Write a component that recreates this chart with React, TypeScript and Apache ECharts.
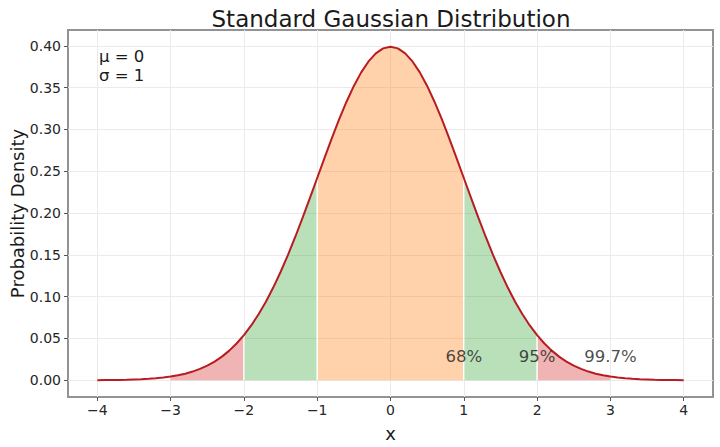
import React, { useEffect, useRef } from 'react';
import * as echarts from 'echarts';

// x 从 -4 到 4，步长 0.1
const xValues = [
  -4.0, -3.9, -3.8, -3.7, -3.6, -3.5, -3.4, -3.3, -3.2, -3.1,
  -3.0, -2.9, -2.8, -2.7, -2.6, -2.5, -2.4, -2.3, -2.2, -2.1,
  -2.0, -1.9, -1.8, -1.7, -1.6, -1.5, -1.4, -1.3, -1.2, -1.1,
  -1.0, -0.9, -0.8, -0.7, -0.6, -0.5, -0.4, -0.3, -0.2, -0.1,
  0.0, 0.1, 0.2, 0.3, 0.4, 0.5, 0.6, 0.7, 0.8, 0.9,
  1.0, 1.1, 1.2, 1.3, 1.4, 1.5, 1.6, 1.7, 1.8, 1.9,
  2.0, 2.1, 2.2, 2.3, 2.4, 2.5, 2.6, 2.7, 2.8, 2.9,
  3.0, 3.1, 3.2, 3.3, 3.4, 3.5, 3.6, 3.7, 3.8, 3.9,
  4.0,
];

// 概率密度
const density = [
  0.0001, 0.0002, 0.0003, 0.0004, 0.0006, 0.0009, 0.0012, 0.0017, 0.0024, 0.0033,
  0.0044, 0.0060, 0.0079, 0.0104, 0.0136, 0.0175, 0.0224, 0.0283, 0.0355, 0.0440,
  0.0540, 0.0656, 0.0790, 0.0940, 0.1109, 0.1295, 0.1497, 0.1714, 0.1942, 0.2179,
  0.2420, 0.2661, 0.2897, 0.3123, 0.3332, 0.3521, 0.3683, 0.3814, 0.3910, 0.3970,
  0.3989, 0.3970, 0.3910, 0.3814, 0.3683, 0.3521, 0.3332, 0.3123, 0.2897, 0.2661,
  0.2420, 0.2179, 0.1942, 0.1714, 0.1497, 0.1295, 0.1109, 0.0940, 0.0790, 0.0656,
  0.0540, 0.0440, 0.0355, 0.0283, 0.0224, 0.0175, 0.0136, 0.0104, 0.0079, 0.0060,
  0.0044, 0.0033, 0.0024, 0.0017, 0.0012, 0.0009, 0.0006, 0.0004, 0.0003, 0.0002,
  0.0001,
];

// 着色区间 [起点, 终点, 颜色]
const bands = [
  [-3, -2, 'rgba(214, 39, 40, 0.35)'],
  [2, 3, 'rgba(214, 39, 40, 0.35)'],
  [-2, -1, 'rgba(44, 160, 44, 0.33)'],
  [1, 2, 'rgba(44, 160, 44, 0.33)'],
  [-1, 1, 'rgba(255, 127, 14, 0.35)'],
];
const boundaries = [-2, -1, 1, 2];

const xTicks = [-4, -3, -2, -1, 0, 1, 2, 3, 4];
const yTicks = [0, 0.05, 0.1, 0.15, 0.2, 0.25, 0.3, 0.35, 0.4];

const pctX = [1, 2, 3];
const pctY = 0.028;
const pctText = ['68%', '95%', '99.7%'];

const FONT = 'DejaVu Sans';

const points = xValues.map((x, i) => [x, density[i]]);
const idxOf = (x: number) => xValues.findIndex(v => Math.abs(v - x) < 1e-9);
const slice = (a: number, b: number) => points.slice(idxOf(a), idxOf(b) + 1);

const GaussianChart = () => {
  const chartRef = useRef<HTMLDivElement>(null);

  useEffect(() => {
    if (!chartRef.current) return;
    const chart = echarts.init(chartRef.current, null, { renderer: 'svg' });

    const bandSeries = bands.map(([a, b, color]) => ({
      type: 'line',
      data: slice(a as number, b as number),
      showSymbol: false,
      silent: true,
      lineStyle: { width: 0 },
      areaStyle: { color, opacity: 1, origin: 'auto' },
      z: 2,
    }));

    const edgeSeries = boundaries.map(b => ({
      type: 'line',
      data: [[b, 0], [b, density[idxOf(b)]]],
      showSymbol: false,
      silent: true,
      lineStyle: { color: '#ffffff', width: 1.5 },
      z: 3,
    }));

    const options = {
      animation: false,
      title: {
        text: 'Standard Gaussian Distribution',
        left: 386,
        textAlign: 'center',
        top: 2,
        textStyle: { fontFamily: FONT, fontSize: 23, fontWeight: 'normal', color: '#1a1a1a' },
      },
      grid: {
        left: 68,
        right: 7,
        top: 30,
        bottom: 50,
        show: true,
        borderColor: '#939393',
        borderWidth: 2,
        outerBoundsMode: 'none',
        containLabel: false,
      },
      xAxis: {
        type: 'value',
        min: -4.4,
        max: 4.4,
        name: 'x',
        nameLocation: 'middle',
        nameGap: 27,
        nameMoveOverlap: false,
        nameTextStyle: { fontFamily: FONT, fontSize: 18, color: '#1a1a1a' },
        axisLine: { show: false, onZero: false },
        axisTick: { show: true, customValues: xTicks, length: 4, lineStyle: { color: '#555' } },
        axisLabel: {
          customValues: xTicks,
          margin: 6,
          fontFamily: FONT,
          fontSize: 14,
          color: '#262626',
          formatter: (v: number) => String(v).replace('-', '\u2212'),
        },
        splitLine: { show: false },
      },
      yAxis: {
        type: 'value',
        min: -0.02,
        max: 0.419,
        name: 'Probability Density',
        nameLocation: 'middle',
        nameGap: 42,
        nameRotate: 90,
        nameMoveOverlap: false,
        nameTextStyle: { fontFamily: FONT, fontSize: 18, color: '#1a1a1a' },
        axisLine: { show: false, onZero: false },
        axisTick: { show: true, customValues: yTicks, length: 4, lineStyle: { color: '#555' } },
        axisLabel: {
          customValues: yTicks,
          margin: 7,
          fontFamily: FONT,
          fontSize: 14,
          color: '#262626',
          formatter: (v: number) => v.toFixed(2),
        },
        splitLine: { show: false },
      },
      graphic: [
        {
          type: 'text',
          left: 99,
          top: 47,
          style: {
            text: 'μ = 0\nσ = 1',
            fontFamily: FONT,
            fontSize: 16.5,
            lineHeight: 19,
            fill: '#1a1a1a',
          },
        },
      ],
      series: [
        {
          // 网格线
          type: 'scatter',
          data: [],
          silent: true,
          z: 0,
          markLine: {
            silent: true,
            symbol: 'none',
            z: 0,
            label: { show: false },
            lineStyle: { color: '#ebebeb', width: 1, type: 'solid' },
            data: [
              ...xTicks.map(v => ({ xAxis: v })),
              ...yTicks.map(v => ({ yAxis: v })),
            ],
          },
        },
        ...bandSeries,
        ...edgeSeries,
        {
          type: 'line',
          data: points,
          showSymbol: false,
          silent: true,
          lineStyle: { color: '#b81c22', width: 2 },
          z: 4,
        },
        {
          type: 'scatter',
          data: pctX.map((x, i) => [x, pctY, pctText[i]]),
          symbolSize: 0,
          silent: true,
          z: 5,
          label: {
            show: true,
            position: 'inside',
            formatter: (p: any) => p.value[2],
            fontFamily: FONT,
            fontSize: 16.5,
            color: '#1a1a1a',
          },
        },
      ],
    };

    chart.setOption(options);

    return () => {
      chart.dispose();
    };
  }, []);

  return (
    <div
      ref={chartRef}
      style={{ position: 'fixed', left: 0, top: 0, width: '720px', height: '447px', background: '#fff' }}
    />
  );
};

export default GaussianChart;
